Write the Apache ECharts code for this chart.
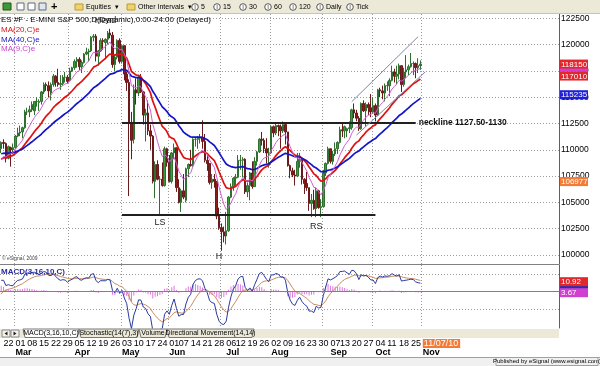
<!DOCTYPE html>
<html><head><meta charset="utf-8">
<script src="https://cdn.jsdelivr.net/npm/echarts@6/dist/echarts.min.js"></script>
<style>html,body{margin:0;padding:0;background:#fff}#c{width:600px;height:366px}</style>
</head><body><div id="c"></div>
<script>
// ---------- DATA ----------
const tradingDays = {
  '2010-02': [19,22,23,24,25,26],
  '2010-03': [1,2,3,4,5,8,9,10,11,12,15,16,17,18,19,22,23,24,25,26,29,30,31],
  '2010-04': [1,2,5,6,7,8,9,12,13,14,15,16,19,20,21,22,23,26,27,28,29,30],
  '2010-05': [3,4,5,6,7,10,11,12,13,14,17,18,19,20,21,24,25,26,27,28],
  '2010-06': [1,2,3,4,7,8,9,10,11,14,15,16,17,18,21,22,23,24,25,28,29,30],
  '2010-07': [1,2,6,7,8,9,12,13,14,15,16,19,20,21,22,23,26,27,28,29,30],
  '2010-08': [2,3,4,5,6,9,10,11,12,13,16,17,18,19,20,23,24,25,26,27,30,31],
  '2010-09': [1,2,3,7,8,9,10,13,14,15,16,17,20,21,22,23,24,27,28,29,30],
  '2010-10': [1,4,5,6,7,8,11,12,13,14,15,18,19,20,21,22,25,26,27,28,29]
};
// closes before the first visible bar (Dec 17 2009 - Feb 18 2010), used only for the averages
const warmupClose = [1092,1098,1110,1114,1116,1122,1123,1122,1122,1111,
  1130,1133,1134,1138,1142,1144,1133,1142,1145,1133,1147,1135,1113,1089,1094,1089,1095,1082,1071,
  1087,1101,1095,1061,1064,1055,1068,1066,1076,1073,1093,1097,1105];
const openP = [
  1101,1107,1106,1092,1102,1100,
  1102,1113,1116,1117,1121,1136,1136,1138,1137,1146,1145,1146,1155,1162,1161,1154,1162,1170,1164,1162,1163,1169,1169,
  1166,1175,1178,1184,1186,1179,1183,1191,1193,1194,1207,1208,1189,1194,1204,1202,1205,1211,1209,1181,1188,1204,
  1184,1199,1172,1164,1126,1110,1157,1154,1169,1155,1133,1135,1118,1113,1070,1086,1072,1072,1066,1101,
  1088,1070,1097,1102,1064,1050,1061,1052,1082,1086,1085,1110,1110,1111,1112,1108,1090,1087,1069,1072,1070,1037,
  1026,1022,1018,1023,1055,1065,1073,1074,1090,1090,1091,1060,1066,1078,1065,1089,1098,1110,1109,1101,1097,
  1097,1122,1116,1123,1122,1118,1124,1117,1085,1080,1076,1075,1089,1091,1072,1068,1064,1049,1052,1044,1061,1045,
  1046,1078,1087,1101,1089,1096,1101,1107,1119,1118,1118,1120,1121,1138,1135,1130,1120,1144,1137,1143,1140,
  1136,1142,1133,1157,1156,1154,1161,1161,1166,1174,1170,1172,1180,1162,1174,1176,1179,1182,1182,1178,1180];
const highP = [
  1108,1110,1107,1104,1103,1106,
  1114,1121,1123,1122,1138,1140,1142,1146,1146,1150,1148,1156,1164,1164,1165,1164,1172,1171,1177,1171,1171,1174,1171,
  1178,1179,1186,1188,1188,1185,1192,1197,1196,1208,1210,1210,1195,1206,1206,1206,1213,1215,1212,1191,1205,1206,
  1200,1199,1174,1167,1136,1162,1168,1170,1172,1156,1139,1147,1124,1114,1089,1090,1075,1088,1103,1102,
  1095,1098,1106,1102,1072,1063,1077,1083,1087,1100,1111,1112,1113,1115,1128,1115,1095,1087,1077,1077,1070,1045,
  1030,1027,1041,1056,1068,1074,1077,1095,1095,1093,1092,1069,1079,1089,1093,1099,1111,1117,1111,1111,1102,
  1123,1123,1125,1124,1124,1127,1125,1117,1086,1083,1081,1097,1097,1091,1073,1079,1064,1058,1062,1064,1062,1053,
  1081,1088,1103,1101,1099,1107,1108,1122,1125,1123,1121,1127,1139,1144,1138,1132,1145,1147,1145,1145,1153,
  1150,1144,1158,1159,1161,1163,1165,1168,1180,1177,1180,1182,1180,1178,1190,1181,1192,1184,1183,1187,1185];
const lowP = [
  1097,1101,1088,1091,1084,1096,
  1101,1112,1113,1111,1120,1133,1131,1136,1133,1141,1137,1143,1153,1156,1150,1147,1160,1160,1160,1157,1161,1164,1163,
  1165,1174,1176,1178,1176,1173,1182,1190,1184,1193,1203,1184,1180,1193,1195,1186,1200,1206,1178,1175,1186,1182,
  1182,1166,1156,1056,1091,1106,1143,1151,1154,1124,1108,1114,1100,1068,1054,1071,1037,1065,1065,1084,
  1069,1068,1091,1060,1049,1041,1053,1050,1074,1084,1084,1103,1101,1106,1101,1088,1080,1067,1063,1064,1034,1024,
  1004,1012,1010,1022,1054,1061,1066,1073,1081,1074,1058,1055,1052,1063,1065,1085,1097,1104,1097,1087,1083,
  1096,1112,1114,1113,1101,1116,1105,1084,1073,1074,1066,1074,1083,1067,1058,1061,1042,1036,1043,1036,1044,1036,
  1045,1075,1086,1087,1086,1094,1096,1106,1112,1111,1112,1116,1119,1130,1127,1118,1119,1136,1122,1133,1131,
  1134,1127,1132,1150,1148,1146,1156,1151,1165,1164,1162,1167,1155,1160,1168,1171,1178,1171,1168,1173,1176];
const closeP = [
  1107,1106,1092,1103,1100,1102,
  1113,1116,1117,1121,1136,1136,1138,1143,1146,1146,1146,1155,1162,1161,1156,1162,1170,1164,1162,1163,1169,1169,1165,
  1175,1178,1184,1186,1179,1183,1191,1193,1194,1207,1208,1189,1194,1204,1203,1205,1211,1209,1181,1188,1204,1184,
  1199,1172,1164,1126,1109,1157,1154,1169,1155,1133,1135,1118,1113,1070,1086,1072,1072,1066,1101,1088,
  1070,1097,1102,1064,1050,1061,1055,1082,1086,1085,1110,1110,1111,1112,1108,1090,1087,1069,1072,1070,1037,1026,
  1022,1018,1023,1055,1065,1073,1074,1090,1090,1091,1060,1066,1078,1065,1089,1098,1110,1109,1101,1097,1097,
  1122,1116,1123,1122,1118,1124,1117,1085,1080,1076,1075,1089,1091,1072,1068,1064,1049,1052,1044,1061,1045,1046,
  1078,1087,1101,1089,1096,1101,1107,1119,1118,1122,1120,1121,1138,1135,1130,1120,1144,1137,1143,1140,1136,
  1142,1133,1157,1156,1154,1161,1161,1166,1174,1170,1172,1180,1162,1174,1176,1179,1182,1182,1178,1180,1181.5];
const priceTicks = [1000,1025,1050,1075,1100,1125,1150,1175,1200,1225];
const maPeriods = {ma20: 20, ma40: 40, ma9: 9};
const macdParams = [3,16,10];
// right-edge value boxes
const priceBoxes = [
  {v:1178.4, text:'', color:'#d040d0'},
  {v:1181.5, text:'118150', color:'#e3262c'},
  {v:1170.1, text:'117010', color:'#e3262c'},
  {v:1152.35, text:'115235', color:'#1f1fd8'},
  {v:1069.77, text:'106977', color:'#f47b36'}];
const macdBoxes = [
  {v:7.5, text:'', color:'#2030b8'},
  {v:10.92, text:'10.92', color:'#e3262c'},
  {v:3.67, text:'3.67', color:'#d040d0'}];
// pattern annotations
const necklinePrice = 1126, necklineFrom = '2010-05-03', necklineTo = '2010-10-27';
const supportPrice = 1038, supportFrom = '2010-05-03', supportTo = '2010-10-04';
const channelUpper = [['2010-09-20',1145.7],['2010-10-28',1207.5]];
const channelLower = [['2010-09-22',1114],['2010-11-02',1174]];
const patternLabels = [
  {t:'Head', d:'2010-04-22', p:1222.6},
  {t:'LS', d:'2010-05-25', p:1030.4},
  {t:'H', d:'2010-06-30', p:998.5},
  {t:'RS', d:'2010-08-27', p:1026.6}];
const monthNames = ['Jan','Feb','Mar','Apr','May','Jun','Jul','Aug','Sep','Oct','Nov','Dec'];

// ---------- BUILD ----------
const cats = [];
Object.keys(tradingDays).forEach(m => tradingDays[m].forEach(d => cats.push(m + '-' + String(d).padStart(2,'0'))));
const nData = cats.length;
const TOTAL = 236;
{ let dt = new Date(Date.UTC(2010,10,1));
  while (cats.length < TOTAL) { const w = dt.getUTCDay(); if (w && w !== 6) cats.push(dt.toISOString().slice(0,10)); dt.setUTCDate(dt.getUTCDate()+1); } }
const LAST_LABEL = nData; // Nov 1
const weekStart = new Set(), monthFirstWeek = new Set(), monthStart = new Set();
let prevWeekMonth = '02';
for (let i = 1; i <= LAST_LABEL; i++) {
  const d = new Date(cats[i] + 'T00:00:00Z'), p = new Date(cats[i-1] + 'T00:00:00Z');
  if (d.getUTCDay() <= p.getUTCDay() || (d - p) > 4 * 864e5) {
    weekStart.add(i);
    const mm = cats[i].slice(5,7);
    if (mm !== prevWeekMonth) monthFirstWeek.add(i);
    prevWeekMonth = mm;
  }
  if (cats[i].slice(5,7) !== cats[i-1].slice(5,7)) monthStart.add(i);
}
const allClose = warmupClose.concat(closeP);
const off = warmupClose.length;
function ema(arr, n) { const a = 2/(n+1); const out = [arr[0]]; for (let i = 1; i < arr.length; i++) out.push(out[i-1] + a*(arr[i]-out[i-1])); return out; }
const maLine = n => ema(allClose, n).slice(off).map(v => +v.toFixed(2));
const ef = ema(allClose, macdParams[0]), es = ema(allClose, macdParams[1]);
const macdAll = ef.map((v,i) => v - es[i]);
const sigAll = ema(macdAll, macdParams[2]);
const macd = macdAll.slice(off).map(v => +v.toFixed(2));
const sig = sigAll.slice(off).map(v => +v.toFixed(2));
const hist = macd.map((v,i) => +(v - sig[i]).toFixed(2));
const candles = closeP.map((c,i) => [openP[i], c, lowP[i], highP[i]]);

const FONT = 'Liberation Sans';
const dotted = {color:'#9a9a9a', type:[1,2], width:1};

const baseGraphic = [
    // toolbar
    {type:'rect', shape:{x:0,y:0,width:600,height:13}, style:{fill:'#ece9d8'}, z:100, silent:true},
    {type:'line', shape:{x1:0,y1:13.5,x2:600,y2:13.5}, style:{stroke:'#c8c4b4'}, z:100, silent:true},
    {type:'rect', shape:{x:3,y:3,width:8,height:7}, style:{fill:'#3a9a3a', stroke:'#225522'}, z:101},
    {type:'rect', shape:{x:17,y:3,width:7,height:7}, style:{fill:'#ffffff', stroke:'#5a6a8a'}, z:101},
    {type:'rect', shape:{x:28,y:3,width:7,height:7}, style:{fill:'#ffffff', stroke:'#5a6a8a'}, z:101},
    {type:'rect', shape:{x:39,y:3,width:7,height:7}, style:{fill:'#dfe6f0', stroke:'#5a6a8a'}, z:101},
    {type:'text', style:{x:51, y:7, text:'+', font:'bold 11px ' + FONT, fill:'#000', verticalAlign:'middle'}, z:101},
    {type:'rect', shape:{x:75,y:4,width:8,height:6}, style:{fill:'#f2d36a', stroke:'#b89a3a'}, z:101},
    {type:'text', style:{x:86, y:7, text:'Equities  \u25be', font:'7px ' + FONT, fill:'#000', verticalAlign:'middle'}, z:101},
    {type:'rect', shape:{x:127,y:4,width:8,height:6}, style:{fill:'#f2d36a', stroke:'#b89a3a'}, z:101},
    {type:'text', style:{x:138, y:7, text:'Other Intervals  \u25be', font:'7px ' + FONT, fill:'#000', verticalAlign:'middle'}, z:101},
    ...[[195,'5'],[217,'15'],[243,'30'],[268,'60'],[293,'120'],[320,'Daily'],[350,'Tick']].flatMap(([x,t]) => [
      {type:'circle', shape:{cx:x, cy:7, r:3.3}, style:{fill:'#fff', stroke:'#555'}, z:101},
      {type:'text', style:{x:x, y:7, text:'I', font:'6px ' + FONT, fill:'#333', align:'center', verticalAlign:'middle'}, z:102},
      {type:'text', style:{x:x+6, y:7, text:t, font:'7px ' + FONT, fill:'#000', verticalAlign:'middle'}, z:101}]),
    // title & legends
    {type:'text', style:{x:1, y:20, text:'ES #F - E-MINI S&P 500,D(Dynamic),0:00-24:00 (Delayed)', font:'8px ' + FONT, fill:'#000', verticalAlign:'middle'}, z:50},
    {type:'text', style:{x:1, y:30, text:'MA(20,C)e', font:'8px ' + FONT, fill:'#e01010', verticalAlign:'middle'}, z:50},
    {type:'text', style:{x:1, y:39.5, text:'MA(40,C)e', font:'8px ' + FONT, fill:'#1414c8', verticalAlign:'middle'}, z:50},
    {type:'text', style:{x:1, y:49, text:'MA(9,C)e', font:'8px ' + FONT, fill:'#cc44cc', verticalAlign:'middle'}, z:50},
    {type:'text', style:{x:2, y:259, text:'\u00a9 eSignal, 2009', font:'5px ' + FONT, fill:'#444', verticalAlign:'middle'}, z:50},
    {type:'text', style:{x:1, y:272, text:'MACD(3,16,10,C)', font:'bold 8px ' + FONT, fill:'#2a2aa8', verticalAlign:'middle'}, z:50},
    // tab strip
    {type:'rect', shape:{x:0,y:329,width:559,height:9}, style:{fill:'#ece9d8'}, z:100},
    {type:'rect', shape:{x:2,y:330,width:8,height:7}, style:{fill:'#f4f3ee', stroke:'#888'}, z:101},
    {type:'rect', shape:{x:11,y:330,width:8,height:7}, style:{fill:'#f4f3ee', stroke:'#888'}, z:101},
    {type:'polygon', shape:{points:[[7.5,331.5],[7.5,335.5],[4.5,333.5]]}, style:{fill:'#222'}, z:102},
    {type:'polygon', shape:{points:[[13.5,331.5],[13.5,335.5],[16.5,333.5]]}, style:{fill:'#222'}, z:102},
    ...[[23,79,'MACD(3,16,10,C)','#ffffff'],[79,139,'Stochastic(14(7),3)','#ece9d8'],[139,167,'Volume','#ece9d8'],[167,254,'Directional Movement(14,14)','#ece9d8']].flatMap(([a,b,t,f]) => [
      {type:'polygon', shape:{points:[[a,329],[b,329],[b-2,337.5],[a+2,337.5]]}, style:{fill:f, stroke:'#777'}, z:101},
      {type:'text', style:{x:(a+b)/2, y:333.5, text:t, font:'7px ' + FONT, fill:'#000', align:'center', verticalAlign:'middle'}, z:102}]),
    // footer
    {type:'rect', shape:{x:0,y:357,width:600,height:9}, style:{fill:'#f0f0f0'}, z:100},
    {type:'line', shape:{x1:0,y1:357.5,x2:600,y2:357.5}, style:{stroke:'#a0a0a0'}, z:101},
    {type:'rect', shape:{x:496,y:357.5,width:102,height:8}, style:{fill:'#f0f0f0', stroke:'#a0a0a0'}, z:101},
    {type:'text', style:{x:547, y:361.8, text:'Published by eSignal (www.esignal.com)', font:'6px ' + FONT, fill:'#000', align:'center', verticalAlign:'middle'}, z:102}
];

const option = {
  animation: false,
  backgroundColor: '#ffffff',
  grid: [
    {left:0, top:14, width:559, height:250},
    {left:0, top:265, width:559, height:63}
  ],
  xAxis: [
    {type:'category', gridIndex:0, data:cats, boundaryGap:true,
     axisLine:{show:true, lineStyle:{color:'#808080'}}, axisTick:{show:false}, axisLabel:{show:false},
     splitLine:{show:true, interval:(i) => monthStart.has(i), lineStyle:dotted}},
    {type:'category', gridIndex:1, data:cats, boundaryGap:true,
     axisLine:{show:true, lineStyle:{color:'#808080'}}, axisTick:{show:false},
     splitLine:{show:true, interval:(i) => monthStart.has(i), lineStyle:dotted},
     axisLabel:{show:true, interval:(i) => weekStart.has(i), align:'left', margin:11,
       color:'#000', fontSize:9, fontFamily:FONT, lineHeight:9,
       formatter:(v, i) => {
         if (i === LAST_LABEL) return '{o|11/07/10}\n{m|Nov}';
         const day = v.slice(8);
         if (monthFirstWeek.has(i)) return day + '\n{m|' + monthNames[+v.slice(5,7)-1] + '}';
         return day;
       },
       rich:{m:{fontWeight:'bold', fontSize:9, lineHeight:9, fontFamily:FONT, color:'#000'},
             o:{backgroundColor:'#f47b36', color:'#fff', fontSize:9, lineHeight:9, padding:[0,2,0,1], fontFamily:FONT}}}}
  ],
  yAxis: [
    {type:'value', gridIndex:0, position:'right', min:991.44, max:1229.09,
     axisLine:{show:true, lineStyle:{color:'#606060'}},
     axisTick:{show:false, customValues:priceTicks},
     axisLabel:{show:true, customValues:priceTicks, formatter:(v) => String(Math.round(v*100)), color:'#000',
       fontSize:8.5, fontFamily:FONT, margin:2},
     splitLine:{show:true, lineStyle:dotted}},
    {type:'value', gridIndex:1, position:'right', min:-42, max:30,
     axisLine:{show:true, lineStyle:{color:'#606060'}},
     axisTick:{show:false, customValues:[-20,20]}, axisLabel:{show:false},
     splitLine:{show:true, lineStyle:dotted}},
    {type:'value', gridIndex:1, position:'right', min:-105, max:75, show:false}
  ],
  series: [
    {type:'candlestick', name:'ES', xAxisIndex:0, yAxisIndex:0, data:candles, barWidth:2,
     itemStyle:{color:'#3d9a3d', color0:'#8a1c1c', borderColor:'#2f6f2f', borderColor0:'#6a1a1a', borderWidth:1},
     markLine:{silent:true, symbol:'none', animation:false, data:[
       [{coord:[necklineFrom, necklinePrice]}, {coord:[necklineTo, necklinePrice],
         label:{show:true, position:'end', distance:3, formatter:'neckline 1127.50-1130', color:'#111', fontSize:8.5, fontWeight:'bold', fontFamily:FONT}}],
       [{coord:[supportFrom, supportPrice]}, {coord:[supportTo, supportPrice]}],
       [{coord:channelUpper[0], lineStyle:{color:'#7f86a8', width:1, type:'solid'}}, {coord:channelUpper[1]}],
       [{coord:channelLower[0], lineStyle:{color:'#7f86a8', width:1, type:'solid'}}, {coord:channelLower[1]}]
     ], lineStyle:{color:'#202020', width:2, type:'solid'}, label:{show:false}},
     markPoint:{silent:true, symbol:'circle', symbolSize:0, data: patternLabels.map(o => ({coord:[o.d, o.p],
       label:{show:true, position:'inside', formatter:o.t, color:'#222', fontSize:9, fontFamily:FONT}}))}
    },
    {type:'line', name:'MA20', xAxisIndex:0, yAxisIndex:0, data:maLine(maPeriods.ma20), symbol:'none', lineStyle:{color:'#e01010', width:1.7}, z:3},
    {type:'line', name:'MA40', xAxisIndex:0, yAxisIndex:0, data:maLine(maPeriods.ma40), symbol:'none', lineStyle:{color:'#1414c8', width:1.7}, z:3},
    {type:'line', name:'MA9', xAxisIndex:0, yAxisIndex:0, data:maLine(maPeriods.ma9), symbol:'none', lineStyle:{color:'#d060d0', width:1}, z:3},
    {type:'bar', name:'Hist', xAxisIndex:1, yAxisIndex:2, data:hist, barWidth:1, itemStyle:{color:'#dd77dd'}},
    {type:'line', name:'Signal', xAxisIndex:1, yAxisIndex:1, data:sig, symbol:'none', lineStyle:{color:'#c88a60', width:1},
     markLine:{silent:true, symbol:'none', data:[{yAxis:0, lineStyle:{color:'#808080', width:1, type:'solid'}, label:{show:false}}]}},
    {type:'line', name:'MACD', xAxisIndex:1, yAxisIndex:1, data:macd, symbol:'none', lineStyle:{color:'#2a3aa0', width:1}}
  ],
  graphic: baseGraphic
};
const chart = echarts.init(document.getElementById('c'));
chart.setOption(option);

// value boxes on the right edge, positioned through the axes' own scales
function boxes(list, axisIdx) {
  const out = []; let prevBottom = -1e9;
  list.forEach(b => {
    let y = chart.convertToPixel({yAxisIndex: axisIdx}, b.v);
    if (b.text && b.color === '#d040d0' && y - 4.5 < prevBottom) y = prevBottom + 6.5;
    if (b.text) prevBottom = y + 4.5;
    out.push({type:'rect', shape:{x:560, y:y-4.5, width:28, height:9}, style:{fill:b.color}, z:110});
    if (b.text) out.push({type:'text', style:{x:561, y:y+0.5, text:b.text, font:'8px ' + FONT, fill:'#fff', verticalAlign:'middle'}, z:111});
  });
  return out;
}
chart.setOption({graphic: baseGraphic.concat(boxes(priceBoxes, 0), boxes(macdBoxes, 1))});
</script></body></html>
